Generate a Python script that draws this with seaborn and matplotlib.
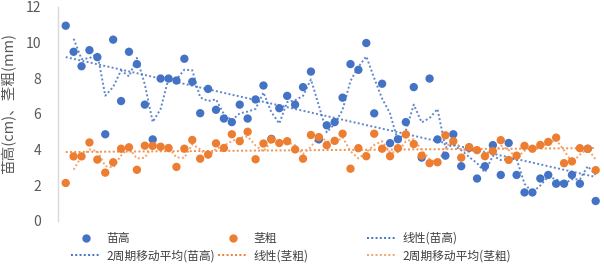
import numpy as np
import pandas as pd
import matplotlib
matplotlib.use("Agg")
import matplotlib.pyplot as plt
from matplotlib.lines import Line2D
import seaborn as sns

# ---- data ----
x_index = list(range(1, 69))
seedling_height = [10.94, 9.48, 8.67, 9.57, 9.18, 4.86, 10.16, 6.72, 9.48, 8.79,
                   6.52, 4.57, 7.98, 7.98, 7.87, 9.09, 7.80, 6.04, 7.40, 6.23,
                   5.74, 5.54, 6.52, 5.74, 6.81, 7.59, 4.60, 6.32, 7.01, 6.52,
                   7.50, 8.37, 4.57, 5.36, 5.54, 6.91, 8.79, 8.47, 9.97, 6.03,
                   7.69, 4.36, 4.58, 5.54, 7.50, 3.55, 7.98, 4.57, 3.66, 4.86,
                   3.07, 4.10, 2.38, 3.07, 4.25, 2.58, 4.37, 2.58, 1.60, 1.60,
                   2.38, 2.58, 2.09, 2.09, 2.58, 2.09, 4.05, 1.12]
stem_diameter = [2.13, 3.62, 3.62, 4.40, 3.44, 2.71, 3.29, 4.05, 4.13, 2.87,
                 4.22, 4.21, 4.16, 4.09, 3.03, 4.05, 4.54, 3.49, 3.72, 4.35,
                 4.09, 4.86, 4.47, 5.00, 3.46, 4.34, 4.57, 4.37, 4.47, 4.01,
                 3.49, 4.82, 4.70, 4.25, 4.49, 4.89, 2.93, 4.08, 3.63, 4.89,
                 4.05, 3.63, 4.08, 4.85, 4.31, 3.66, 3.24, 3.29, 4.80, 4.47,
                 3.55, 4.14, 3.97, 3.63, 3.91, 4.53, 3.42, 3.66, 4.21, 4.05,
                 4.26, 4.43, 4.67, 3.24, 3.34, 4.08, 4.04, 2.85]
series_names = ["苗高", "茎粗"]
legend_labels = ["苗高", "茎粗", "线性(苗高)", "2周期移动平均(苗高)", "线性(茎粗)", "2周期移动平均(茎粗)"]
y_label = "苗高(cm)、茎粗(mm)"
y_ticks = [0, 2, 4, 6, 8, 10, 12]

df = pd.DataFrame({"x": x_index, "h": seedling_height, "d": stem_diameter})
df["h_ma"] = df["h"].rolling(2).mean()
df["d_ma"] = df["d"].rolling(2).mean()

BLUE = "#4472C4"
ORANGE = "#ED7D31"
ORANGE_LIGHT = "#F4A26A"

sns.set_theme(style="white")
plt.rcParams["font.family"] = ["Noto Sans CJK SC", "DejaVu Sans"]

W, H = 604, 266
fig = plt.figure(figsize=(W / 100, H / 100), dpi=100)
ax_left, ax_right, ax_top, ax_bottom = 57.8, 603.6, 6.8, 221.0
ax = fig.add_axes([ax_left / W, 1 - ax_bottom / H, (ax_right - ax_left) / W, (ax_bottom - ax_top) / H])

dot = (0, (1, 1.2))
lw = 1.4

# trend lines (linear fit) and moving averages
sns.regplot(data=df, x="x", y="h", scatter=False, ci=None, ax=ax,
            line_kws=dict(color=BLUE, lw=lw, linestyle=dot, alpha=0.85))
sns.regplot(data=df, x="x", y="d", scatter=False, ci=None, ax=ax,
            line_kws=dict(color=ORANGE, lw=lw, linestyle=dot, alpha=0.85))
sns.lineplot(data=df, x="x", y="h_ma", ax=ax, color=BLUE, lw=lw, linestyle=dot, alpha=0.85)
sns.lineplot(data=df, x="x", y="d_ma", ax=ax, color=ORANGE_LIGHT, lw=lw, linestyle=dot)

# scatter points
sns.scatterplot(data=df, x="x", y="h", ax=ax, color=BLUE, s=36, edgecolor="none", zorder=3)
sns.scatterplot(data=df, x="x", y="d", ax=ax, color=ORANGE, s=36, edgecolor="none", zorder=4)

ax.set_xlim(0, 69)
ax.set_ylim(0, 12)
ax.set_yticks(y_ticks)
ax.set_yticklabels([str(t) for t in y_ticks], fontsize=10, color="#595959")
ax.set_xticks([])
ax.tick_params(axis="y", length=0, pad=12)
ax.set_xlabel("")
ax.set_ylabel("")
for s in ["top", "right", "bottom"]:
    ax.spines[s].set_visible(False)
ax.spines["left"].set_color("#D9D9D9")
ax.spines["left"].set_linewidth(1.0)

fig.text(9 / W, 1 - 103 / H, y_label, rotation=90, ha="center", va="center",
         fontsize=10.5, color="#595959")

# legend: three columns positioned like the original
def mk_marker(c):
    return Line2D([], [], marker="o", linestyle="none", color=c, markersize=6, markeredgewidth=0)

def mk_line(c):
    return Line2D([], [], color=c, lw=lw, linestyle=dot)

cols = [
    ([mk_marker(BLUE), mk_line(BLUE)], [legend_labels[0], legend_labels[3]], 71),
    ([mk_marker(ORANGE), mk_line(ORANGE)], [legend_labels[1], legend_labels[4]], 218),
    ([mk_line(BLUE), mk_line(ORANGE_LIGHT)], [legend_labels[2], legend_labels[5]], 367),
]
for handles, labels, xpx in cols:
    fig.legend(handles, labels, loc="upper left", bbox_to_anchor=(xpx / W, 1 - 232 / H),
               frameon=False, borderpad=0, borderaxespad=0, fontsize=8.5,
               handlelength=2.55, handletextpad=0.45, labelspacing=0.35,
               labelcolor="#404040")

fig.savefig("out.png", dpi=100)
